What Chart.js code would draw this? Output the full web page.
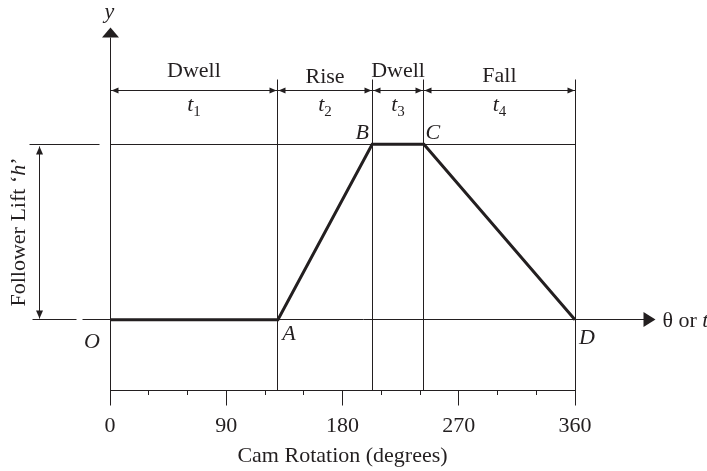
<!DOCTYPE html>
<html>
<head>
<meta charset="utf-8">
<script src="https://cdn.jsdelivr.net/npm/chart.js@4/dist/chart.umd.min.js"></script>
<style>
  body { margin: 0; background: #fff; }
  canvas { display: block; }
</style>
</head>
<body>
<canvas id="chart" width="707" height="471"></canvas>
<script>
// cam displacement diagram: dwell - rise - dwell - fall
const phaseNames = ['Dwell', 'Rise', 'Dwell', 'Fall'];
const phaseTimes = ['1', '2', '3', '4'];          // subscripts of t
const boundaryAngles = [0, 130, 203, 243, 360];   // degrees, O A B C D
const liftValues = [0, 0, 1, 1, 0];               // fraction of lift h
const pointNames = ['O', 'A', 'B', 'C', 'D'];
const majorTicks = [0, 90, 180, 270, 360];
const minorStep = 30;

const INK = '#231f20';
const SERIF = '"Liberation Serif", "Times New Roman", serif';
const TXT = 22;
const font = (size, italic) => (italic ? 'italic ' : '') + size + 'px ' + SERIF;

// per-label nudges (pixels), only layout
const phaseLabelDy = [-14, -8, -14, -9];
const pointLabelOffset = [[-18, 28], [11, 20], [-10, -5], [9, -5], [12, 24]];

function seg(ctx, x1, y1, x2, y2) {
  ctx.beginPath();
  ctx.moveTo(x1, y1);
  ctx.lineTo(x2, y2);
  ctx.stroke();
}

function head(ctx, tx, ty, dx, dy, len, half) {
  const bx = tx - dx * len, by = ty - dy * len;
  ctx.beginPath();
  ctx.moveTo(tx, ty);
  ctx.lineTo(bx - dy * half, by + dx * half);
  ctx.lineTo(bx + dy * half, by - dx * half);
  ctx.closePath();
  ctx.fill();
}

// draw a row of text pieces with different fonts
function runs(ctx, parts, x, y, align) {
  let total = 0;
  parts.forEach(p => { ctx.font = p.font; p.w = ctx.measureText(p.text).width; total += p.w; });
  let cx = align === 'center' ? x - total / 2 : x;
  ctx.textAlign = 'left';
  ctx.textBaseline = 'alphabetic';
  parts.forEach(p => {
    ctx.font = p.font;
    ctx.fillText(p.text, cx, y + (p.dy || 0));
    cx += p.w;
  });
}

const camGuides = {
  id: 'camGuides',
  beforeDatasetsDraw(chart) {
    const ctx = chart.ctx;
    const xs = chart.scales.x, ys = chart.scales.y;
    const px = v => Math.floor(xs.getPixelForValue(v)) + 0.5;
    const py = v => Math.floor(ys.getPixelForValue(v)) + 0.5;
    const axisY = xs.top + 0.5;
    const x0 = px(0), xEnd = px(360);
    const y0 = py(0), yh = py(1);
    const dimY = yh - 54;

    ctx.save();
    ctx.strokeStyle = INK;
    ctx.fillStyle = INK;
    ctx.lineWidth = 1;

    // y axis with arrow
    seg(ctx, x0, yh - 107, x0, axisY);
    head(ctx, x0, yh - 117, 0, -1, 10, 8.5);

    // long ticks at the labelled angles
    majorTicks.forEach(v => seg(ctx, px(v), axisY, px(v), axisY + 15));

    // phase boundaries
    boundaryAngles.slice(1).forEach(b => seg(ctx, px(b), yh - 65, px(b), axisY));

    // lift level and base line with arrow
    seg(ctx, x0, yh, xEnd, yh);
    seg(ctx, x0 - 28, y0, xEnd + 69, y0);
    head(ctx, xEnd + 80, y0, 1, 0, 12, 7.5);

    // extension lines and lift dimension
    seg(ctx, x0 - 81, yh, x0 - 11, yh);
    seg(ctx, x0 - 78, y0, x0 - 34, y0);
    const dx = x0 - 71;
    seg(ctx, dx, yh + 2, dx, y0 - 1);
    head(ctx, dx, yh + 2, 0, -1, 8, 3.5);
    head(ctx, dx, y0 - 1, 0, 1, 8, 3.5);

    // time dimension line
    seg(ctx, x0, dimY, xEnd, dimY);
    for (let i = 0; i < phaseNames.length; i++) {
      const a = px(boundaryAngles[i]), b = px(boundaryAngles[i + 1]);
      head(ctx, a + 1, dimY, -1, 0, 7, 3);
      head(ctx, b - 1, dimY, 1, 0, 7, 3);
      const mid = xs.getPixelForValue((boundaryAngles[i] + boundaryAngles[i + 1]) / 2);
      runs(ctx, [{ text: phaseNames[i], font: font(TXT) }], mid, dimY + phaseLabelDy[i], 'center');
      runs(ctx, [
        { text: 't', font: font(TXT, true) },
        { text: phaseTimes[i], font: font(15), dy: 5 }
      ], mid, dimY + 20, 'center');
    }

    // point letters
    pointNames.forEach((n, i) => {
      const [ox, oy] = pointLabelOffset[i];
      const bx = xs.getPixelForValue(boundaryAngles[i]);
      const by = ys.getPixelForValue(liftValues[i]);
      runs(ctx, [{ text: n, font: font(TXT, true) }], bx + ox, by + oy, 'center');
    });

    // axis names
    runs(ctx, [{ text: 'y', font: font(TXT, true) }], x0 - 1, yh - 127, 'center');
    runs(ctx, [
      { text: '\u03b8 or ', font: font(TXT) },
      { text: 't', font: font(TXT, true) }
    ], xEnd + 87, y0 + 7, 'left');

    ctx.save();
    ctx.translate(x0 - 86, (y0 + yh) / 2);
    ctx.rotate(-Math.PI / 2);
    runs(ctx, [
      { text: 'Follower Lift \u2018', font: font(TXT) },
      { text: 'h', font: font(TXT, true) },
      { text: '\u2019', font: font(TXT) }
    ], 0, 0, 'center');
    ctx.restore();

    ctx.restore();
  }
};

new Chart(document.getElementById('chart'), {
  type: 'line',
  data: {
    datasets: [{
      label: 'Follower lift',
      data: boundaryAngles.map((a, i) => ({ x: a, y: liftValues[i] })),
      borderColor: INK,
      borderWidth: 3,
      pointRadius: 0,
      tension: 0,
      clip: false
    }]
  },
  options: {
    responsive: false,
    animation: false,
    devicePixelRatio: 1,
    layout: { padding: { left: 110, right: 132, top: 39, bottom: 0 } },
    plugins: {
      legend: { display: false },
      tooltip: { enabled: false }
    },
    scales: {
      x: {
        type: 'linear',
        position: 'bottom',
        min: 0,
        max: 360,
        ticks: {
          stepSize: minorStep,
          autoSkip: false,
          maxRotation: 0,
          padding: 18,
          color: INK,
          font: { family: SERIF, size: TXT },
          callback: v => majorTicks.includes(v) ? String(v) : ''
        },
        grid: {
          drawOnChartArea: false,
          drawTicks: true,
          tickLength: 5,
          color: INK,
          lineWidth: 1
        },
        border: { display: true, color: INK, width: 1 },
        title: {
          display: true,
          text: 'Cam Rotation (degrees)',
          color: INK,
          font: { family: SERIF, size: TXT },
          padding: { top: 0, bottom: 2 }
        },
        afterFit: s => { s.height = 81; }
      },
      y: {
        display: false,
        min: -0.4,
        max: 1.6
      }
    }
  },
  plugins: [camGuides]
});
</script>
</body>
</html>
